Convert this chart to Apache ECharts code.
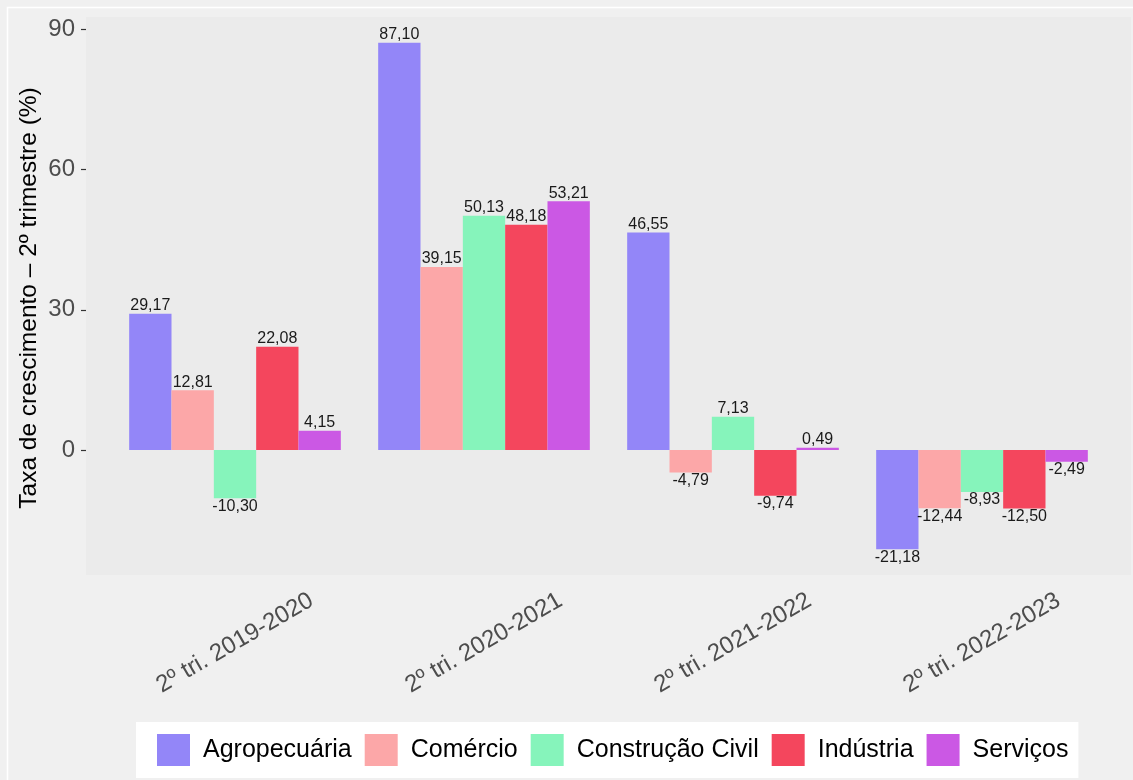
<!DOCTYPE html>
<html>
<head>
<meta charset="utf-8">
<script src="https://cdn.jsdelivr.net/npm/echarts@6/dist/echarts.min.js"></script>
<style>
  html, body { margin: 0; padding: 0; background: #f0f0f0; }
  #chart { width: 1133px; height: 780px; }
</style>
</head>
<body>
<div id="chart"></div>
<script>
// periodos (eixo x)
const periodos = ['2º tri. 2019-2020', '2º tri. 2020-2021', '2º tri. 2021-2022', '2º tri. 2022-2023']

// taxas de crescimento por setor (%)
const agropecuaria = [29.17, 87.10, 46.55, -21.18]
const comercio = [12.81, 39.15, -4.79, -12.44]
const construcao = [-10.30, 50.13, 7.13, -8.93]
const industria = [22.08, 48.18, -9.74, -12.50]
const servicos = [4.15, 53.21, 0.49, -2.49]

const yTicks = [0, 30, 60, 90]
const yTitulo = 'Taxa de crescimento – 2º trimestre (%)'

const setores = [
  { name: 'Agropecuária', data: agropecuaria, color: '#9386F8' },
  { name: 'Comércio', data: comercio, color: '#FCA7A8' },
  { name: 'Construção Civil', data: construcao, color: '#86F4BB' },
  { name: 'Indústria', data: industria, color: '#F4465D' },
  { name: 'Serviços', data: servicos, color: '#CB58E4' }
]

const FONT = '"Liberation Sans", Arial, sans-serif'

const fmt = v => v.toFixed(2).replace('.', ',')

const chart = echarts.init(document.getElementById('chart'))

chart.setOption({
  backgroundColor: '#f0f0f0',
  animation: false,
  textStyle: { fontFamily: FONT },
  graphic: [
    {
      type: 'rect',
      z: -100,
      shape: { x: 7.5, y: 7.5, width: 1140, height: 800 },
      style: { fill: null, stroke: '#ffffff', lineWidth: 1.5 }
    },
    {
      type: 'rect',
      z: -90,
      shape: { x: 86, y: 17, width: 1045, height: 558 },
      style: { fill: '#ebebeb' }
    },
    // titulo do eixo y
    {
      type: 'text',
      x: 29,
      y: 298,
      rotation: Math.PI / 2,
      style: {
        text: yTitulo,
        fontFamily: FONT,
        fontSize: 24.5,
        fill: '#000000',
        align: 'center',
        verticalAlign: 'middle'
      }
    }
  ],
  grid: {
    left: 110.5,
    right: 26.5,
    top: 17,
    bottom: 205
  },
  legend: {
    left: 136,
    top: 722,
    backgroundColor: '#ffffff',
    padding: [12, 10, 12, 21],
    itemWidth: 33,
    itemHeight: 32,
    itemGap: 13,
    icon: 'rect',
    textStyle: {
      fontFamily: FONT,
      fontSize: 25,
      color: '#000000',
      padding: [0, 0, 0, 8]
    },
    data: setores.map(s => s.name)
  },
  xAxis: {
    type: 'category',
    data: periodos,
    axisLine: { show: false },
    axisTick: {
      alignWithLabel: true,
      length: 5,
      lineStyle: { color: '#333333', width: 1.2 }
    },
    axisLabel: {
      rotate: 30,
      align: 'center',
      verticalAlign: 'middle',
      margin: 68,
      fontFamily: FONT,
      fontSize: 24,
      color: '#4d4d4d'
    }
  },
  yAxis: {
    type: 'value',
    min: -26.7,
    max: 92.6,
    offset: 24.5,
    splitLine: { show: false },
    axisLine: { show: false },
    axisTick: {
      show: true,
      length: 5,
      customValues: yTicks,
      lineStyle: { color: '#333333', width: 1.2 }
    },
    axisLabel: {
      customValues: yTicks,
      margin: 11,
      fontFamily: FONT,
      fontSize: 24,
      color: '#4d4d4d'
    }
  },
  series: setores.map(s => ({
    name: s.name,
    type: 'bar',
    barGap: '0%',
    barCategoryGap: '15%',
    itemStyle: { color: s.color },
    label: {
      show: true,
      distance: 0,
      fontFamily: FONT,
      fontSize: 16,
      color: '#1a1a1a',
      formatter: p => fmt(p.value)
    },
    data: s.data.map(v => ({
      value: v,
      label: { position: v < 0 ? 'bottom' : 'top' }
    }))
  }))
})
</script>
</body>
</html>
